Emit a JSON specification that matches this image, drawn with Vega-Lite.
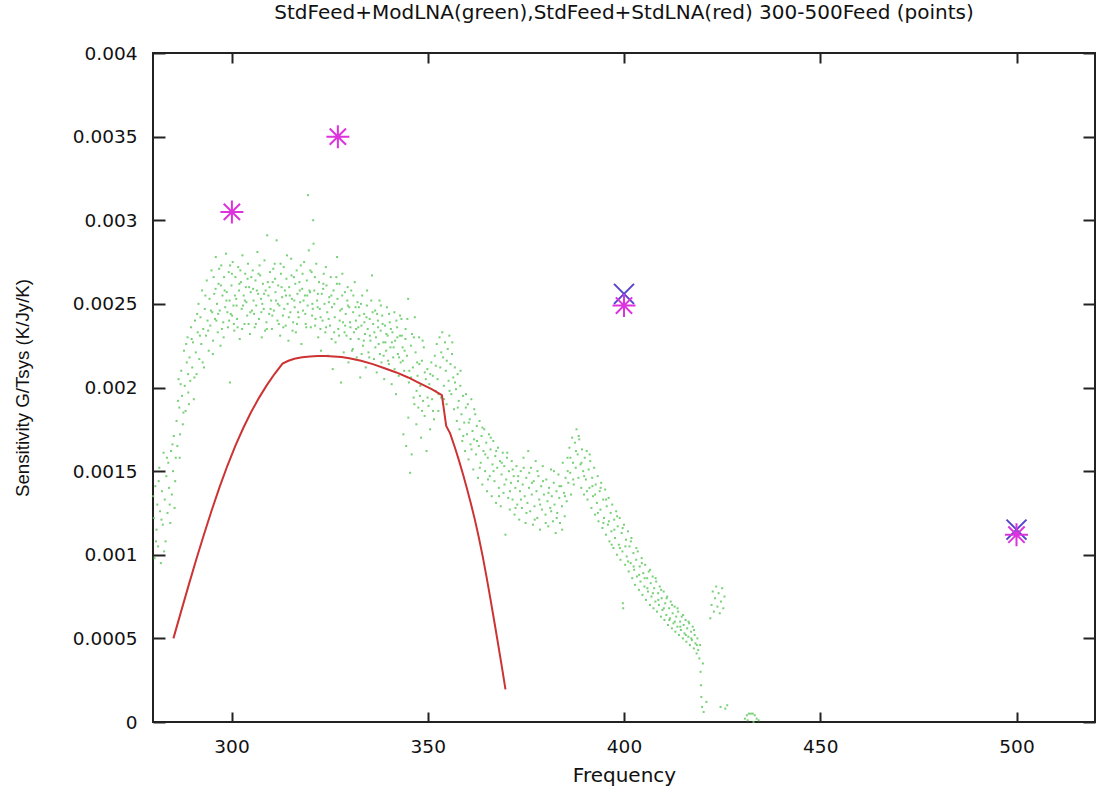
{
  "$schema": "https://vega.github.io/schema/vega-lite/v6.json",
  "width": 942,
  "height": 669,
  "autosize": {"type": "none"},
  "padding": {"left": 153, "top": 53, "right": 3, "bottom": 71},
  "background": "white",
  "title": {
    "text": "StdFeed+ModLNA(green),StdFeed+StdLNA(red) 300-500Feed (points)",
    "font": "DejaVu Sans",
    "fontSize": 20,
    "fontWeight": "normal",
    "color": "#111111",
    "anchor": "middle",
    "frame": "group",
    "baseline": "alphabetic",
    "offset": 5
  },
  "config": {
    "view": {"stroke": "#222222", "strokeWidth": 2},
    "axis": {"grid": false, "domain": false}
  },
  "datasets": {
    "green": [
      {"f":280.2,"s":0.00122},{"f":280.4,"s":0.00098},{"f":280.6,"s":0.00141},{"f":280.9,"s":0.00115},{"f":281.1,"s":0.0013},{"f":281.3,"s":0.00105},{"f":281.6,"s":0.00152},{"f":281.8,"s":0.00126},{"f":282.0,"s":0.00095},{"f":282.3,"s":0.00138},{"f":282.5,"s":0.00118},{"f":282.7,"s":0.00161},{"f":283.0,"s":0.00133},{"f":283.2,"s":0.00108},{"f":283.4,"s":0.00147},{"f":283.7,"s":0.00125},{"f":283.9,"s":0.00155},{"f":284.1,"s":0.0014},{"f":284.4,"s":0.00119},{"f":284.6,"s":0.00162},{"f":284.8,"s":0.00136},{"f":285.1,"s":0.0015},{"f":285.3,"s":0.00171},{"f":285.5,"s":0.00128},{"f":285.8,"s":0.00158},{"f":286.0,"s":0.0018},
      {"f":286.2,"s":0.00165},{"f":286.5,"s":0.00205},{"f":286.7,"s":0.00188},{"f":286.9,"s":0.00172},{"f":287.2,"s":0.0021},{"f":287.4,"s":0.00195},{"f":287.6,"s":0.00178},{"f":287.9,"s":0.00222},{"f":288.1,"s":0.00201},{"f":288.3,"s":0.00186},{"f":288.6,"s":0.00215},{"f":288.8,"s":0.0023},{"f":289.0,"s":0.00197},{"f":289.3,"s":0.00218},{"f":289.5,"s":0.00204},{"f":289.7,"s":0.00236},{"f":290.0,"s":0.00212},{"f":290.2,"s":0.00227},{"f":290.4,"s":0.00193},{"f":290.7,"s":0.0024},{"f":290.9,"s":0.00221},{"f":291.1,"s":0.00208},{"f":291.4,"s":0.00233},{"f":291.6,"s":0.0025},{"f":291.8,"s":0.00217},
      {"f":292.1,"s":0.00242},{"f":292.3,"s":0.00226},{"f":292.5,"s":0.00258},{"f":292.8,"s":0.00235},{"f":293.0,"s":0.00212},{"f":293.2,"s":0.00247},{"f":293.5,"s":0.00231},{"f":293.7,"s":0.00264},{"f":293.9,"s":0.0024},{"f":294.2,"s":0.00222},{"f":294.4,"s":0.00253},{"f":294.6,"s":0.00237},{"f":294.9,"s":0.0027},{"f":295.1,"s":0.00245},{"f":295.3,"s":0.00228},{"f":295.6,"s":0.00256},{"f":295.8,"s":0.00241},{"f":296.0,"s":0.00278},{"f":296.3,"s":0.0025},{"f":296.5,"s":0.00233},{"f":296.7,"s":0.00262},{"f":297.0,"s":0.00246},{"f":297.2,"s":0.00225},{"f":297.4,"s":0.00273},{"f":297.7,"s":0.00255},{"f":297.9,"s":0.00239},{"f":298.1,"s":0.00266},{"f":298.4,"s":0.00248},{"f":298.6,"s":0.0028},{"f":298.8,"s":0.00257},{"f":299.1,"s":0.00236},{"f":299.3,"s":0.00269},{"f":299.5,"s":0.00252},{"f":299.6,"s":0.00203},{"f":299.8,"s":0.00244},
      {"f":300.0,"s":0.00261},{"f":300.3,"s":0.00275},{"f":300.5,"s":0.00249},{"f":300.7,"s":0.00234},{"f":301.0,"s":0.00266},{"f":301.2,"s":0.00253},{"f":301.4,"s":0.00241},{"f":301.7,"s":0.00272},{"f":301.9,"s":0.00258},{"f":302.1,"s":0.00229},{"f":302.4,"s":0.00263},{"f":302.6,"s":0.00247},{"f":302.8,"s":0.00279},{"f":303.1,"s":0.00255},{"f":303.3,"s":0.00238},{"f":303.5,"s":0.00268},{"f":303.8,"s":0.00251},{"f":304.0,"s":0.00243},{"f":304.2,"s":0.00274},{"f":304.5,"s":0.0026},{"f":304.7,"s":0.00232},{"f":304.9,"s":0.00257},{"f":305.2,"s":0.00246},{"f":305.4,"s":0.0027},{"f":305.6,"s":0.00252},{"f":305.9,"s":0.00236},{"f":306.1,"s":0.00264},{"f":306.3,"s":0.00249},{"f":306.6,"s":0.00281},{"f":306.8,"s":0.00256},{"f":307.0,"s":0.00241},{"f":307.3,"s":0.00267},{"f":307.5,"s":0.00253},{"f":307.7,"s":0.0023},{"f":308.0,"s":0.00262},{"f":308.2,"s":0.00247},{"f":308.4,"s":0.00276},{"f":308.7,"s":0.00258},{"f":308.9,"s":0.00239},{"f":309.1,"s":0.00291},{"f":309.4,"s":0.00255},{"f":309.6,"s":0.00244},{"f":309.8,"s":0.00269},
      {"f":310.1,"s":0.00252},{"f":310.3,"s":0.00235},{"f":310.5,"s":0.00263},{"f":310.8,"s":0.00246},{"f":311.0,"s":0.00274},{"f":311.2,"s":0.00257},{"f":311.5,"s":0.00288},{"f":311.7,"s":0.0024},{"f":311.9,"s":0.00261},{"f":312.2,"s":0.00249},{"f":312.4,"s":0.00231},{"f":312.6,"s":0.00268},{"f":312.9,"s":0.00254},{"f":313.1,"s":0.00243},{"f":313.3,"s":0.00272},{"f":313.6,"s":0.00258},{"f":313.8,"s":0.00237},{"f":314.0,"s":0.00265},{"f":314.3,"s":0.0025},{"f":314.5,"s":0.00228},{"f":314.7,"s":0.0026},{"f":315.0,"s":0.00245},{"f":315.2,"s":0.00277},{"f":315.4,"s":0.00253},{"f":315.7,"s":0.00239},{"f":315.9,"s":0.00266},{"f":316.1,"s":0.00248},{"f":316.4,"s":0.00233},{"f":316.6,"s":0.0027},{"f":316.8,"s":0.00256},{"f":317.1,"s":0.00242},{"f":317.3,"s":0.00263},{"f":317.5,"s":0.00251},{"f":317.8,"s":0.00226},{"f":318.0,"s":0.00259},{"f":318.2,"s":0.00246},{"f":318.5,"s":0.00275},{"f":318.7,"s":0.00255},{"f":318.9,"s":0.00238},{"f":319.2,"s":0.00264},{"f":319.4,"s":0.00249},{"f":319.5,"s":0.00315},{"f":319.7,"s":0.00282},
      {"f":320.0,"s":0.00257},{"f":320.2,"s":0.00236},{"f":320.4,"s":0.00269},{"f":320.7,"s":0.00247},{"f":320.8,"s":0.003},{"f":320.9,"s":0.00286},{"f":321.1,"s":0.00258},{"f":321.4,"s":0.00241},{"f":321.6,"s":0.00274},{"f":321.8,"s":0.00252},{"f":322.1,"s":0.0023},{"f":322.3,"s":0.00263},{"f":322.5,"s":0.00247},{"f":322.8,"s":0.00222},{"f":323.0,"s":0.00256},{"f":323.2,"s":0.0024},{"f":323.5,"s":0.00268},{"f":323.7,"s":0.0025},{"f":323.9,"s":0.00233},{"f":324.2,"s":0.00261},{"f":324.4,"s":0.00245},{"f":324.6,"s":0.00219},{"f":324.9,"s":0.00254},{"f":325.1,"s":0.00237},{"f":325.3,"s":0.00266},{"f":325.6,"s":0.00248},{"f":325.8,"s":0.00211},{"f":326.0,"s":0.00258},{"f":326.3,"s":0.00242},{"f":326.5,"s":0.00227},{"f":326.9,"s":0.00278},{"f":327.0,"s":0.00253},{"f":327.2,"s":0.00235},{"f":327.5,"s":0.00262},{"f":327.7,"s":0.00246},{"f":327.9,"s":0.00203},{"f":328.2,"s":0.00255},{"f":328.4,"s":0.00239},{"f":328.6,"s":0.00221},{"f":328.9,"s":0.00257},{"f":329.1,"s":0.00244},{"f":329.3,"s":0.00231},{"f":329.6,"s":0.0026},{"f":329.8,"s":0.00215},
      {"f":330.0,"s":0.00248},{"f":330.3,"s":0.00236},{"f":330.5,"s":0.00258},{"f":330.7,"s":0.00222},{"f":331.0,"s":0.00245},{"f":331.2,"s":0.00233},{"f":331.4,"s":0.00263},{"f":331.7,"s":0.0024},{"f":331.9,"s":0.00218},{"f":332.1,"s":0.00251},{"f":332.4,"s":0.00229},{"f":332.6,"s":0.00243},{"f":332.8,"s":0.00206},{"f":333.1,"s":0.00237},{"f":333.3,"s":0.00255},{"f":333.5,"s":0.00225},{"f":333.8,"s":0.00244},{"f":334.0,"s":0.00232},{"f":334.2,"s":0.00212},{"f":334.5,"s":0.00249},{"f":334.7,"s":0.00235},{"f":334.9,"s":0.00221},{"f":335.2,"s":0.00241},{"f":335.4,"s":0.00228},{"f":335.8,"s":0.00267},{"f":336.1,"s":0.00238},{"f":336.3,"s":0.00217},{"f":336.6,"s":0.00246},{"f":336.8,"s":0.0023},{"f":337.0,"s":0.00209},{"f":337.3,"s":0.0024},{"f":337.5,"s":0.00226},{"f":337.7,"s":0.00252},{"f":338.0,"s":0.00234},{"f":338.2,"s":0.00215},{"f":338.4,"s":0.00243},{"f":338.7,"s":0.00227},{"f":338.9,"s":0.00205},{"f":339.1,"s":0.00237},{"f":339.4,"s":0.00222},{"f":339.6,"s":0.00248},{"f":339.8,"s":0.00231},
      {"f":340.1,"s":0.00214},{"f":340.3,"s":0.00239},{"f":340.5,"s":0.00224},{"f":340.8,"s":0.00202},{"f":341.0,"s":0.00233},{"f":341.2,"s":0.00218},{"f":341.5,"s":0.00245},{"f":341.7,"s":0.00228},{"f":341.9,"s":0.00196},{"f":342.2,"s":0.00236},{"f":342.4,"s":0.0022},{"f":342.6,"s":0.00207},{"f":342.9,"s":0.00231},{"f":343.1,"s":0.00215},{"f":343.3,"s":0.00241},{"f":343.6,"s":0.00224},{"f":343.8,"s":0.00172},{"f":344.0,"s":0.0021},{"f":344.3,"s":0.00229},{"f":344.5,"s":0.00165},{"f":344.7,"s":0.00219},{"f":345.0,"s":0.00253},{"f":345.2,"s":0.00203},{"f":345.5,"s":0.00149},{"f":345.7,"s":0.00225},{"f":345.9,"s":0.0016},{"f":346.2,"s":0.00212},{"f":346.4,"s":0.00194},{"f":346.7,"s":0.00242},{"f":346.9,"s":0.00221},{"f":347.1,"s":0.00178},{"f":347.4,"s":0.00207},{"f":347.6,"s":0.00188},{"f":347.8,"s":0.0023},{"f":348.1,"s":0.00201},{"f":348.3,"s":0.0017},{"f":348.5,"s":0.00216},{"f":348.8,"s":0.00192},{"f":349.0,"s":0.00224},{"f":349.2,"s":0.00183},{"f":349.5,"s":0.00205},{"f":349.7,"s":0.00162},{"f":349.9,"s":0.00211},
      {"f":350.2,"s":0.00189},{"f":350.4,"s":0.00202},{"f":350.6,"s":0.00175},{"f":350.9,"s":0.00215},{"f":351.1,"s":0.00193},{"f":351.3,"s":0.00207},{"f":351.6,"s":0.00181},{"f":351.8,"s":0.00219},{"f":352.0,"s":0.00198},{"f":352.3,"s":0.00226},{"f":352.5,"s":0.00205},{"f":352.7,"s":0.00186},{"f":353.0,"s":0.0023},{"f":353.2,"s":0.00212},{"f":353.4,"s":0.00194},{"f":353.7,"s":0.00233},{"f":353.9,"s":0.00218},{"f":354.1,"s":0.00201},{"f":354.4,"s":0.00227},{"f":354.6,"s":0.0021},{"f":354.8,"s":0.0019},{"f":355.1,"s":0.00223},{"f":355.3,"s":0.00204},{"f":355.5,"s":0.00231},{"f":355.8,"s":0.00214},{"f":356.0,"s":0.00196},{"f":356.2,"s":0.0022},{"f":356.5,"s":0.00206},{"f":356.7,"s":0.00187},{"f":356.9,"s":0.00212},{"f":357.2,"s":0.00199},{"f":357.4,"s":0.0018},{"f":357.6,"s":0.00208},{"f":357.9,"s":0.00192},{"f":358.1,"s":0.00175},{"f":358.3,"s":0.00201},{"f":358.6,"s":0.00184},{"f":358.8,"s":0.00168},{"f":359.0,"s":0.00195},{"f":359.3,"s":0.00179},{"f":359.5,"s":0.00162},{"f":359.7,"s":0.00188},
      {"f":360.0,"s":0.00172},{"f":360.2,"s":0.0019},{"f":360.4,"s":0.00157},{"f":360.7,"s":0.00181},{"f":360.9,"s":0.00166},{"f":361.1,"s":0.00193},{"f":361.4,"s":0.00174},{"f":361.6,"s":0.00151},{"f":361.8,"s":0.00169},{"f":362.1,"s":0.00184},{"f":362.3,"s":0.0016},{"f":362.5,"s":0.00177},{"f":362.8,"s":0.00146},{"f":363.0,"s":0.00165},{"f":363.2,"s":0.0018},{"f":363.5,"s":0.00155},{"f":363.7,"s":0.00171},{"f":363.9,"s":0.00142},{"f":364.2,"s":0.00162},{"f":364.4,"s":0.00175},{"f":364.6,"s":0.0015},{"f":364.9,"s":0.00167},{"f":365.1,"s":0.00138},{"f":365.3,"s":0.00158},{"f":365.6,"s":0.00172},{"f":365.8,"s":0.00147},{"f":366.0,"s":0.00163},{"f":366.3,"s":0.00135},{"f":366.5,"s":0.00154},{"f":366.7,"s":0.00168},{"f":367.0,"s":0.00144},{"f":367.2,"s":0.00159},{"f":367.4,"s":0.00131},{"f":367.7,"s":0.00152},{"f":367.9,"s":0.00164},{"f":368.1,"s":0.0014},{"f":368.4,"s":0.00156},{"f":368.6,"s":0.00129},{"f":368.8,"s":0.00148},{"f":369.1,"s":0.00161},{"f":369.3,"s":0.00137},{"f":369.5,"s":0.00153},{"f":369.8,"s":0.00112},
      {"f":370.0,"s":0.00145},{"f":370.2,"s":0.00158},{"f":370.5,"s":0.00134},{"f":370.7,"s":0.0015},{"f":370.9,"s":0.00127},{"f":371.2,"s":0.00143},{"f":371.4,"s":0.00156},{"f":371.6,"s":0.00133},{"f":371.9,"s":0.00147},{"f":372.1,"s":0.00124},{"f":372.3,"s":0.0014},{"f":372.6,"s":0.00153},{"f":372.8,"s":0.0013},{"f":373.0,"s":0.00144},{"f":373.3,"s":0.00121},{"f":373.5,"s":0.00138},{"f":373.7,"s":0.0015},{"f":374.0,"s":0.00128},{"f":374.2,"s":0.00142},{"f":374.4,"s":0.00158},{"f":374.7,"s":0.00135},{"f":374.9,"s":0.00119},{"f":375.1,"s":0.00146},{"f":375.4,"s":0.00131},{"f":375.6,"s":0.00162},{"f":375.8,"s":0.0014},{"f":376.1,"s":0.00126},{"f":376.3,"s":0.00152},{"f":376.5,"s":0.00136},{"f":376.8,"s":0.00118},{"f":377.0,"s":0.00144},{"f":377.2,"s":0.00129},{"f":377.5,"s":0.00156},{"f":377.7,"s":0.00138},{"f":377.9,"s":0.00122},{"f":378.2,"s":0.00147},{"f":378.4,"s":0.00133},{"f":378.6,"s":0.00115},{"f":378.9,"s":0.00141},{"f":379.1,"s":0.00127},{"f":379.3,"s":0.00153},{"f":379.6,"s":0.00136},
      {"f":380.0,"s":0.00124},{"f":380.2,"s":0.00145},{"f":380.5,"s":0.00132},{"f":380.7,"s":0.00117},{"f":380.9,"s":0.0014},{"f":381.2,"s":0.00128},{"f":381.4,"s":0.00151},{"f":381.6,"s":0.00135},{"f":381.9,"s":0.0012},{"f":382.1,"s":0.00143},{"f":382.3,"s":0.0013},{"f":382.6,"s":0.00113},{"f":382.8,"s":0.00138},{"f":383.0,"s":0.00125},{"f":383.3,"s":0.00148},{"f":383.5,"s":0.00134},{"f":383.7,"s":0.00119},{"f":384.0,"s":0.00141},{"f":384.2,"s":0.00129},{"f":384.4,"s":0.00155},{"f":384.7,"s":0.00137},{"f":384.9,"s":0.00123},{"f":385.1,"s":0.00146},{"f":385.4,"s":0.00132},{"f":385.6,"s":0.00158},{"f":385.8,"s":0.00143},{"f":386.1,"s":0.00164},{"f":386.3,"s":0.00149},{"f":386.5,"s":0.00136},{"f":386.8,"s":0.0017},{"f":387.0,"s":0.00155},{"f":387.2,"s":0.00142},{"f":387.5,"s":0.00167},{"f":387.7,"s":0.00152},{"f":387.9,"s":0.00175},{"f":388.2,"s":0.0016},{"f":388.4,"s":0.00146},{"f":388.6,"s":0.00169},{"f":388.9,"s":0.00154},{"f":389.1,"s":0.0014},{"f":389.3,"s":0.00163},{"f":389.6,"s":0.0015},{"f":389.8,"s":0.00136},
      {"f":390.0,"s":0.00158},{"f":390.3,"s":0.00145},{"f":390.5,"s":0.00162},{"f":390.7,"s":0.00133},{"f":391.0,"s":0.00151},{"f":391.2,"s":0.0014},{"f":391.4,"s":0.00156},{"f":391.7,"s":0.00128},{"f":391.9,"s":0.00146},{"f":392.1,"s":0.00135},{"f":392.4,"s":0.00152},{"f":392.6,"s":0.00124},{"f":392.8,"s":0.00142},{"f":393.1,"s":0.00131},{"f":393.3,"s":0.00147},{"f":393.5,"s":0.0012},{"f":393.8,"s":0.00138},{"f":394.0,"s":0.00127},{"f":394.2,"s":0.00143},{"f":394.5,"s":0.00116},{"f":394.7,"s":0.00133},{"f":394.9,"s":0.00122},{"f":395.2,"s":0.00139},{"f":395.4,"s":0.00112},{"f":395.6,"s":0.00129},{"f":395.9,"s":0.00118},{"f":396.1,"s":0.00134},{"f":396.3,"s":0.00108},{"f":396.6,"s":0.00125},{"f":396.8,"s":0.00114},{"f":397.0,"s":0.0013},{"f":397.3,"s":0.00104},{"f":397.5,"s":0.00121},{"f":397.7,"s":0.0011},{"f":398.0,"s":0.00126},{"f":398.2,"s":0.001},{"f":398.4,"s":0.00117},{"f":398.7,"s":0.00106},{"f":398.9,"s":0.00122},{"f":399.1,"s":0.00097},{"f":399.4,"s":0.00113},{"f":399.6,"s":0.00102},{"f":399.7,"s":0.00071},{"f":399.8,"s":0.00068},
      {"f":400.0,"s":0.00118},{"f":400.3,"s":0.00094},{"f":400.5,"s":0.00109},{"f":400.7,"s":0.00099},{"f":401.0,"s":0.00114},{"f":401.2,"s":0.0009},{"f":401.4,"s":0.00105},{"f":401.7,"s":0.00095},{"f":401.9,"s":0.0011},{"f":402.1,"s":0.00086},{"f":402.4,"s":0.00101},{"f":402.6,"s":0.00091},{"f":402.8,"s":0.00082},{"f":403.1,"s":0.00097},{"f":403.3,"s":0.00087},{"f":403.5,"s":0.00102},{"f":403.8,"s":0.00079},{"f":404.0,"s":0.00093},{"f":404.2,"s":0.00084},{"f":404.5,"s":0.00098},{"f":404.7,"s":0.00076},{"f":404.9,"s":0.00089},{"f":405.2,"s":0.00081},{"f":405.4,"s":0.00094},{"f":405.6,"s":0.00073},{"f":405.9,"s":0.00086},{"f":406.1,"s":0.00078},{"f":406.3,"s":0.0009},{"f":406.6,"s":0.0007},{"f":406.8,"s":0.00083},{"f":407.0,"s":0.00075},{"f":407.3,"s":0.00087},{"f":407.5,"s":0.00068},{"f":407.7,"s":0.0008},{"f":408.0,"s":0.00072},{"f":408.2,"s":0.00084},{"f":408.4,"s":0.00066},{"f":408.7,"s":0.00077},{"f":408.9,"s":0.0007},{"f":409.1,"s":0.00081},{"f":409.4,"s":0.00063},{"f":409.6,"s":0.00074},{"f":409.8,"s":0.00067},
      {"f":410.1,"s":0.00078},{"f":410.3,"s":0.00061},{"f":410.5,"s":0.00071},{"f":410.8,"s":0.00064},{"f":411.0,"s":0.00075},{"f":411.2,"s":0.00058},{"f":411.5,"s":0.00068},{"f":411.7,"s":0.00062},{"f":411.9,"s":0.00072},{"f":412.2,"s":0.00056},{"f":412.4,"s":0.00065},{"f":412.6,"s":0.00059},{"f":412.9,"s":0.00069},{"f":413.1,"s":0.00054},{"f":413.3,"s":0.00063},{"f":413.6,"s":0.00057},{"f":413.8,"s":0.00066},{"f":414.0,"s":0.00052},{"f":414.3,"s":0.0006},{"f":414.5,"s":0.00055},{"f":414.7,"s":0.00063},{"f":415.0,"s":0.0005},{"f":415.2,"s":0.00058},{"f":415.4,"s":0.00053},{"f":415.7,"s":0.00061},{"f":415.9,"s":0.00048},{"f":416.1,"s":0.00056},{"f":416.4,"s":0.00051},{"f":416.6,"s":0.00059},{"f":416.8,"s":0.00046},{"f":417.1,"s":0.00054},{"f":417.3,"s":0.00049},{"f":417.5,"s":0.00057},{"f":417.8,"s":0.00044},{"f":418.0,"s":0.00052},{"f":418.2,"s":0.00047},{"f":418.5,"s":0.00041},{"f":418.7,"s":0.0005},{"f":418.9,"s":0.00043},{"f":419.2,"s":0.00038},{"f":419.4,"s":0.00046},{"f":419.5,"s":0.0003},{"f":419.6,"s":0.00022},{"f":419.7,"s":0.00015},{"f":419.9,"s":0.00009},{"f":420.1,"s":0.00035},{"f":420.3,"s":0.00006},
      {"f":421.0,"s":0.00012},{"f":422.0,"s":0.00062},{"f":422.3,"s":0.0007},{"f":422.6,"s":0.00078},{"f":422.9,"s":0.00066},{"f":423.2,"s":0.00074},{"f":423.5,"s":0.00081},{"f":423.8,"s":0.00069},{"f":424.1,"s":0.00077},{"f":424.4,"s":0.00065},{"f":424.7,"s":0.00072},{"f":425.0,"s":0.0008},{"f":425.3,"s":0.00068},{"f":425.6,"s":0.00075},{"f":424.6,"s":0.00009},{"f":425.8,"s":0.00008},{"f":426.3,"s":0.0001},{"f":430.8,"s":0.00002},{"f":431.3,"s":0.00004},{"f":431.8,"s":0.00005},{"f":432.3,"s":0.00005},{"f":432.8,"s":0.00005},{"f":433.3,"s":0.00004},{"f":433.8,"s":0.00002},{"f":434.3,"s":0.00001},{"f":431.5,"s":0.00001},{"f":433.0,"s":0.0},
      {"f":280.05,"s":0.00135},{"f":280.75,"s":0.00108},{"f":281.45,"s":0.00144},{"f":282.15,"s":0.00121},{"f":282.85,"s":0.00102},{"f":283.55,"s":0.00158},{"f":284.25,"s":0.0013},{"f":284.95,"s":0.00166},{"f":285.65,"s":0.00144},{"f":286.35,"s":0.00192},{"f":286.8,"s":0.00158},{"f":287.05,"s":0.00202},{"f":287.75,"s":0.00185},{"f":288.45,"s":0.00226},{"f":288.95,"s":0.00208},{"f":289.15,"s":0.0019},{"f":289.85,"s":0.00229},{"f":290.55,"s":0.00206},{"f":291.25,"s":0.00244},{"f":291.95,"s":0.00231},{"f":292.65,"s":0.00215},{"f":293.35,"s":0.00255},{"f":294.05,"s":0.00234},{"f":294.75,"s":0.00246},{"f":295.45,"s":0.00266},{"f":296.15,"s":0.0024},{"f":296.85,"s":0.00271},{"f":297.55,"s":0.00235},{"f":298.25,"s":0.00258},{"f":298.95,"s":0.00245},{"f":299.65,"s":0.00273},{"f":300.15,"s":0.00243},{"f":300.85,"s":0.00255},{"f":301.55,"s":0.00236},{"f":302.25,"s":0.0027},{"f":302.95,"s":0.00249},{"f":303.65,"s":0.0026},{"f":304.35,"s":0.00238},{"f":305.05,"s":0.00266},{"f":305.75,"s":0.00244},{"f":306.45,"s":0.00258},{"f":307.15,"s":0.00273},{"f":307.85,"s":0.0025},{"f":308.55,"s":0.00234},{"f":309.25,"s":0.00263},{"f":309.95,"s":0.00247},{"f":310.65,"s":0.00271},{"f":311.35,"s":0.00252},{"f":312.05,"s":0.00238},{"f":312.75,"s":0.0026},{"f":313.45,"s":0.00247},{"f":314.15,"s":0.00279},{"f":314.85,"s":0.00255},{"f":315.55,"s":0.00234},{"f":316.25,"s":0.00262},{"f":316.95,"s":0.00245},{"f":317.65,"s":0.00273},{"f":318.35,"s":0.00252},{"f":319.05,"s":0.00236},{"f":319.85,"s":0.00258},{"f":320.55,"s":0.00243},{"f":321.25,"s":0.00266},{"f":321.95,"s":0.00248},{"f":322.65,"s":0.00235},{"f":323.35,"s":0.00259},{"f":324.05,"s":0.00272},{"f":324.75,"s":0.00241},{"f":325.45,"s":0.00255},{"f":326.15,"s":0.00233},{"f":326.85,"s":0.00262},{"f":327.55,"s":0.0024},{"f":328.25,"s":0.00268},{"f":328.95,"s":0.00237},{"f":329.65,"s":0.00249},{"f":330.35,"s":0.00229},{"f":331.05,"s":0.00255},{"f":331.75,"s":0.00235},{"f":332.45,"s":0.00248},{"f":333.15,"s":0.0022},{"f":333.85,"s":0.00239},{"f":334.55,"s":0.00258},{"f":335.25,"s":0.00231},{"f":335.95,"s":0.00245},{"f":336.65,"s":0.00224},{"f":337.35,"s":0.00236},{"f":338.05,"s":0.00249},{"f":338.75,"s":0.00219},{"f":339.45,"s":0.00232},{"f":340.15,"s":0.00244},{"f":340.85,"s":0.00227},{"f":341.55,"s":0.00211},{"f":342.25,"s":0.0023},{"f":342.95,"s":0.00243},{"f":343.65,"s":0.00216},{"f":344.35,"s":0.00235},{"f":345.05,"s":0.00182},{"f":345.75,"s":0.00206},{"f":346.45,"s":0.0023},{"f":347.15,"s":0.00198},{"f":347.85,"s":0.00214},{"f":348.55,"s":0.00186},{"f":349.25,"s":0.00209},{"f":349.95,"s":0.00194},{"f":350.65,"s":0.00208},{"f":351.35,"s":0.00186},{"f":352.05,"s":0.00213},{"f":352.75,"s":0.00196},{"f":353.45,"s":0.00221},{"f":354.15,"s":0.00193},{"f":354.85,"s":0.00216},{"f":355.55,"s":0.00198},{"f":356.25,"s":0.00227},{"f":356.95,"s":0.00203},{"f":357.65,"s":0.00188},{"f":358.35,"s":0.0021},{"f":359.05,"s":0.00171},{"f":359.75,"s":0.00196},{"f":360.45,"s":0.00179},{"f":361.15,"s":0.00163},{"f":361.85,"s":0.00187},{"f":362.55,"s":0.00168},{"f":363.25,"s":0.00152},{"f":363.95,"s":0.00176},{"f":364.65,"s":0.0016},{"f":365.35,"s":0.00145},{"f":366.05,"s":0.0017},{"f":366.75,"s":0.0015},{"f":367.45,"s":0.00162},{"f":368.15,"s":0.00135},{"f":368.85,"s":0.00155},{"f":369.55,"s":0.00142},{"f":370.25,"s":0.00161},{"f":370.95,"s":0.00138},{"f":371.65,"s":0.00151},{"f":372.35,"s":0.00128},{"f":373.05,"s":0.00147},{"f":373.75,"s":0.00133},{"f":374.45,"s":0.00152},{"f":375.15,"s":0.00125},{"f":375.85,"s":0.00149},{"f":376.55,"s":0.00143},{"f":377.25,"s":0.00121},{"f":377.95,"s":0.0015},{"f":378.65,"s":0.0013},{"f":379.35,"s":0.00144},{"f":380.05,"s":0.00119},{"f":380.75,"s":0.00137},{"f":381.45,"s":0.00126},{"f":382.15,"s":0.0015},{"f":382.85,"s":0.00122},{"f":383.55,"s":0.00141},{"f":384.25,"s":0.00115},{"f":384.95,"s":0.00135},{"f":385.65,"s":0.0015},{"f":386.35,"s":0.00158},{"f":387.05,"s":0.00145},{"f":387.75,"s":0.00162},{"f":388.45,"s":0.00171},{"f":389.15,"s":0.00155},{"f":389.85,"s":0.00147},{"f":390.55,"s":0.00138},{"f":391.25,"s":0.0016},{"f":391.95,"s":0.00141},{"f":392.65,"s":0.00136},{"f":393.35,"s":0.00125},{"f":394.05,"s":0.0014},{"f":394.75,"s":0.00119},{"f":395.45,"s":0.00133},{"f":396.15,"s":0.0012},{"f":396.85,"s":0.00106},{"f":397.55,"s":0.00115},{"f":398.25,"s":0.00123},{"f":398.95,"s":0.00104},{"f":399.65,"s":0.00116},{"f":400.35,"s":0.00105},{"f":401.05,"s":0.00096},{"f":401.75,"s":0.00108},{"f":402.45,"s":0.00093},{"f":403.15,"s":0.00104},{"f":403.85,"s":0.00088},{"f":404.55,"s":0.00095},{"f":405.25,"s":0.00086},{"f":405.95,"s":0.0008},{"f":406.65,"s":0.00091},{"f":407.35,"s":0.00077},{"f":408.05,"s":0.00086},{"f":408.75,"s":0.00073},{"f":409.45,"s":0.00079},{"f":410.15,"s":0.00068},{"f":410.85,"s":0.00074},{"f":411.55,"s":0.00061},{"f":412.25,"s":0.0007},{"f":412.95,"s":0.0006},{"f":413.65,"s":0.00068},{"f":414.35,"s":0.00057},{"f":415.05,"s":0.00064},{"f":415.75,"s":0.00052},{"f":416.45,"s":0.0006},{"f":417.15,"s":0.0005},{"f":417.85,"s":0.00055},{"f":418.55,"s":0.00046},
      {"f":295.25,"s":0.0022},{"f":295.95,"s":0.00259},{"f":296.6,"s":0.00244},{"f":297.3,"s":0.00261},{"f":298.0,"s":0.0023},{"f":298.7,"s":0.00252},{"f":299.4,"s":0.0024},{"f":300.1,"s":0.00268},{"f":300.6,"s":0.00238},{"f":301.3,"s":0.00249},{"f":302.0,"s":0.00262},{"f":302.7,"s":0.00235},{"f":303.4,"s":0.00252},{"f":304.1,"s":0.00265},{"f":304.8,"s":0.00245},{"f":305.5,"s":0.00259},{"f":306.2,"s":0.00238},{"f":306.9,"s":0.00268},{"f":307.6,"s":0.00245},{"f":308.3,"s":0.00256},{"f":309.0,"s":0.00235},{"f":309.7,"s":0.0026},{"f":310.4,"s":0.00243},{"f":311.1,"s":0.00265},{"f":311.8,"s":0.0025},{"f":312.5,"s":0.00274},{"f":313.2,"s":0.00236},{"f":313.9,"s":0.00255},{"f":314.6,"s":0.00242},{"f":315.3,"s":0.00267},{"f":316.0,"s":0.00252},{"f":316.7,"s":0.00238},{"f":317.4,"s":0.00258},{"f":318.1,"s":0.00268},{"f":318.8,"s":0.00244},{"f":319.3,"s":0.00255},{"f":320.1,"s":0.0027},{"f":320.6,"s":0.0025},{"f":321.3,"s":0.00237},{"f":322.0,"s":0.00256},{"f":322.7,"s":0.00242},{"f":323.4,"s":0.00262},{"f":324.1,"s":0.00236},{"f":324.8,"s":0.00251},{"f":325.5,"s":0.00229},{"f":326.2,"s":0.0025},{"f":326.7,"s":0.00266},{"f":327.4,"s":0.00231},{"f":328.1,"s":0.00247},{"f":328.8,"s":0.00233},{"f":329.5,"s":0.00252},{"f":330.2,"s":0.00239},{"f":330.9,"s":0.00223},{"f":331.6,"s":0.00248},{"f":332.3,"s":0.00236},{"f":333.0,"s":0.0025},{"f":333.7,"s":0.00228},{"f":334.4,"s":0.00242},{"f":335.1,"s":0.00218},{"f":335.6,"s":0.00252},{"f":336.4,"s":0.00233},{"f":337.1,"s":0.00244},{"f":337.8,"s":0.0022},{"f":338.5,"s":0.00238},{"f":339.2,"s":0.00227},{"f":339.9,"s":0.00216},{"f":340.6,"s":0.00235},{"f":341.3,"s":0.00224},{"f":342.0,"s":0.0024},{"f":342.7,"s":0.00218},{"f":343.4,"s":0.00231},{"f":344.1,"s":0.00222},{"f":344.8,"s":0.00241},{"f":345.3,"s":0.0021},{"f":346.0,"s":0.00232},{"f":346.6,"s":0.0019},{"f":347.3,"s":0.00215},{"f":348.0,"s":0.00195},{"f":348.7,"s":0.00228}
    ],
    "red": [
      {"f":285.2,"s":0.0005},{"f":287,"s":0.000648},{"f":289,"s":0.000811},{"f":291,"s":0.00097},{"f":293,"s":0.001123},{"f":295,"s":0.001269},{"f":297,"s":0.001407},{"f":299,"s":0.001535},{"f":301,"s":0.001652},{"f":303,"s":0.001758},{"f":305,"s":0.001853},{"f":307,"s":0.001938},{"f":309,"s":0.002014},{"f":311,"s":0.002082},{"f":313,"s":0.002143},{"f":314.5,"s":0.00216},{"f":316,"s":0.002172},{"f":318,"s":0.002181},{"f":320,"s":0.002186},{"f":322,"s":0.002188},{"f":324,"s":0.002188},{"f":326,"s":0.002186},{"f":328,"s":0.002182},{"f":330,"s":0.002175},{"f":333,"s":0.00216},{"f":336,"s":0.00214},{"f":339,"s":0.002115},{"f":342,"s":0.00209},{"f":345,"s":0.00206},{"f":348,"s":0.002025},{"f":351,"s":0.00199},{"f":353.6,"s":0.001955},{"f":354.7,"s":0.00177},{"f":355.7,"s":0.001726},{"f":357,"s":0.001635},{"f":358,"s":0.00156},{"f":359,"s":0.00148},{"f":360,"s":0.001395},{"f":361,"s":0.001305},{"f":362,"s":0.00121},{"f":363,"s":0.001105},{"f":364,"s":0.00099},{"f":365,"s":0.000865},{"f":366,"s":0.000732},{"f":367,"s":0.000595},{"f":368,"s":0.000455},{"f":369,"s":0.000313},{"f":369.8,"s":0.000195}
    ],
    "pts": [
      {"f":400,"s":0.00256,"k":"x"},{"f":500,"s":0.00115,"k":"x"},
      {"f":300.1,"s":0.00305,"k":"star"},{"f":327.1,"s":0.0035,"k":"star"},{"f":400,"s":0.00249,"k":"star"},{"f":500,"s":0.00112,"k":"star"}
    ]
  },
  "layer": [
    {
      "data": {"name": "green"},
      "mark": {"type": "square", "size": 4, "color": "#5ec85e", "opacity": 0.85},
      "encoding": {
        "x": {"field": "f", "type": "quantitative", "scale": {"domain": [280, 520], "nice": false, "zero": false},
          "axis": {"orient": "bottom", "values": [300, 350, 400, 450, 500], "tickSize": -10, "tickWidth": 2, "tickColor": "#222222",
            "labelFont": "DejaVu Sans", "labelFontSize": 18.5, "labelColor": "#111111", "labelPadding": 25,
            "title": "Frequency", "titleFont": "DejaVu Sans", "titleFontSize": 20, "titleFontWeight": "normal", "titleColor": "#111111",
            "titleX": 471, "titleY": 53, "titleBaseline": "middle", "titleAlign": "center"}},
        "y": {"field": "s", "type": "quantitative", "scale": {"domain": [0, 0.004], "nice": false},
          "axis": {"orient": "left", "values": [0, 0.0005, 0.001, 0.0015, 0.002, 0.0025, 0.003, 0.0035, 0.004], "format": "~g",
            "tickSize": -12, "tickWidth": 2, "tickColor": "#222222",
            "labelFont": "DejaVu Sans", "labelFontSize": 18.5, "labelColor": "#111111", "labelPadding": 28,
            "title": "Sensitivity G/Tsys (K/Jy/K)", "titleFont": "Liberation Sans", "titleFontSize": 18.7, "titleFontWeight": "normal", "titleColor": "#111111",
            "titleX": -131, "titleY": 334.5, "titleBaseline": "middle", "titleAlign": "center", "titleAngle": -90}}
      }
    },
    {
      "data": {"name": "red"},
      "mark": {"type": "line", "color": "#cc3333", "strokeWidth": 2},
      "encoding": {
        "x": {"field": "f", "type": "quantitative", "axis": null},
        "y": {"field": "s", "type": "quantitative", "axis": null}
      }
    },
    {
      "data": {"name": "pts"},
      "mark": {"type": "point", "filled": false, "strokeWidth": 2, "opacity": 1},
      "encoding": {
        "x": {"field": "f", "type": "quantitative", "axis": null},
        "y": {"field": "s", "type": "quantitative", "axis": null},
        "shape": {"field": "k", "type": "nominal", "legend": null,
          "scale": {"domain": ["star", "x"], "range": ["M-1,0L1,0M0,-1L0,1M-0.71,-0.71L0.71,0.71M-0.71,0.71L0.71,-0.71", "M-1,-1L1,1M-1,1L1,-1"]}},
        "color": {"field": "k", "type": "nominal", "legend": null,
          "scale": {"domain": ["star", "x"], "range": ["#dd33dd", "#5544cc"]}},
        "size": {"field": "k", "type": "nominal", "legend": null,
          "scale": {"domain": ["star", "x"], "range": [529, 400]}}
      }
    },
    {
      "data": {"name": "pts"},
      "mark": {"type": "point", "opacity": 0},
      "encoding": {
        "x": {"field": "f", "type": "quantitative",
          "axis": {"orient": "top", "values": [300, 350, 400, 450, 500], "tickSize": -10, "tickWidth": 2, "tickColor": "#222222", "labels": false, "title": null}},
        "y": {"field": "s", "type": "quantitative",
          "axis": {"orient": "right", "values": [0, 0.0005, 0.001, 0.0015, 0.002, 0.0025, 0.003, 0.0035, 0.004], "tickSize": -12, "tickWidth": 2, "tickColor": "#222222", "labels": false, "title": null}}
      }
    }
  ],
  "resolve": {"axis": {"x": "independent", "y": "independent"}}
}
